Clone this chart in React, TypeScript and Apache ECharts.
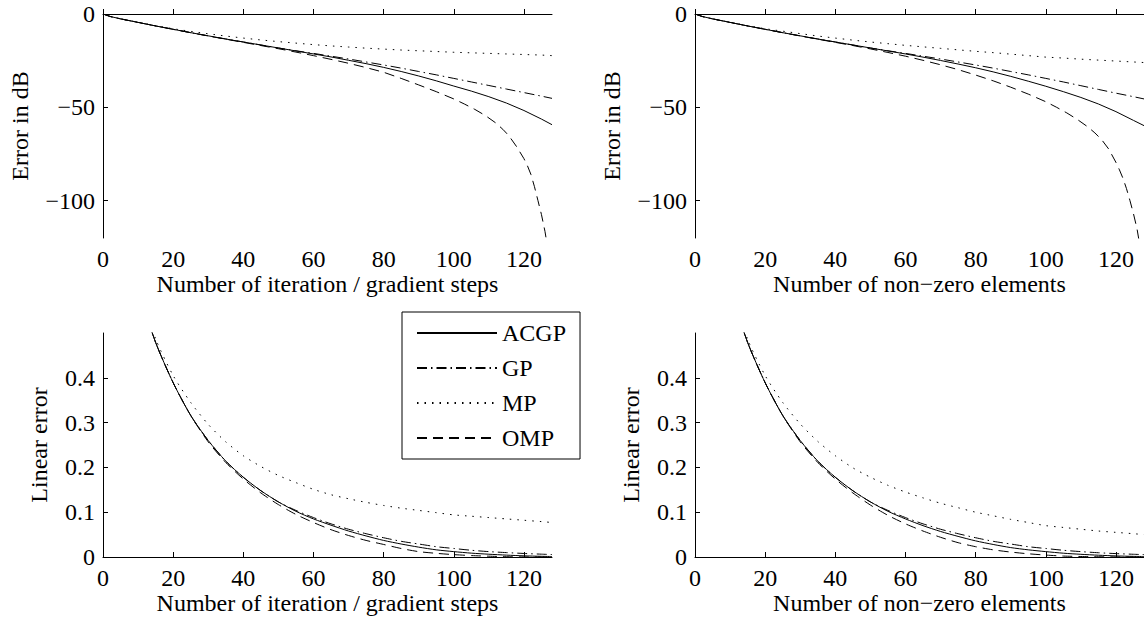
import React, { useEffect, useRef } from "react";
import * as echarts from "echarts";

// ---------- data ----------
const SERIES_NAMES = ["ACGP", "GP", "MP", "OMP"];
const X_TICKS = [0, 20, 40, 60, 80, 100, 120];
const Y_TICKS_DB = [-100, -50, 0];
const Y_TICKS_LIN = [0, 0.1, 0.2, 0.3, 0.4];

// x positions for the dB curves
const X = [0, 2, 5, 10, 15, 20, 25, 30, 35, 40, 45, 50, 55, 60, 65, 70, 75, 80, 85, 90, 95, 100, 105, 110, 115, 120, 125, 128];
const X_OMP_L = [0, 2, 5, 10, 15, 20, 25, 30, 35, 40, 45, 50, 55, 60, 65, 70, 75, 80, 85, 90, 95, 100, 103, 106, 109, 112, 114, 115, 116, 118, 120, 121, 122, 123, 124, 125, 126, 127];
const X_OMP_R = [0, 2, 5, 10, 15, 20, 25, 30, 35, 40, 45, 50, 55, 60, 65, 70, 75, 80, 85, 90, 95, 100, 103, 106, 109, 112, 114, 116, 118, 120, 121, 122, 123, 124, 125, 126, 127];

// top-left: error in dB vs iterations
const ACGP_L_DB = [0, -1.3, -2.6, -4.5, -6.4, -8.2, -10.0, -11.7, -13.4, -15.0, -16.6, -18.2, -19.8, -21.4, -23.0, -24.8, -26.6, -28.6, -30.8, -33.2, -35.8, -38.6, -41.3, -44.3, -47.7, -51.7, -56.3, -59.3];
const GP_L_DB = [0, -1.3, -2.6, -4.5, -6.4, -8.2, -10.0, -11.7, -13.4, -15.0, -16.6, -18.2, -19.7, -21.1, -22.6, -24.1, -25.7, -27.3, -29.0, -30.8, -32.6, -34.5, -36.4, -38.3, -40.2, -42.1, -44.0, -45.2];
const MP_L_DB = [0, -1.3, -2.6, -4.4, -6.3, -7.9, -9.3, -10.6, -11.8, -12.9, -13.9, -14.8, -15.6, -16.4, -17.1, -17.7, -18.3, -18.8, -19.3, -19.7, -20.1, -20.5, -20.8, -21.1, -21.4, -21.7, -22.0, -22.3];
const OMP_L_DB = [0, -1.3, -2.6, -4.5, -6.4, -8.2, -10.0, -11.8, -13.5, -15.2, -16.9, -18.6, -20.4, -22.3, -24.3, -26.4, -28.7, -31.2, -34.5, -38.0, -41.6, -45.5, -48.2, -51.1, -54.4, -58.4, -61.8, -63.8, -66.0, -71.3, -77.5, -81.3, -86.0, -92.5, -100.0, -107.5, -116.5, -128.0];

// top-right: error in dB vs non-zero elements
const ACGP_R_DB = [0, -1.3, -2.6, -4.5, -6.4, -8.2, -10.0, -11.7, -13.4, -15.0, -16.6, -18.2, -19.8, -21.4, -23.1, -24.9, -26.8, -28.8, -31.0, -33.4, -36.0, -38.7, -41.6, -44.7, -48.2, -52.3, -57.0, -59.8];
const GP_R_DB = [0, -1.3, -2.6, -4.5, -6.4, -8.2, -10.0, -11.7, -13.4, -15.0, -16.6, -18.2, -19.7, -21.1, -22.6, -24.1, -25.7, -27.3, -29.0, -30.8, -32.6, -34.5, -36.4, -38.4, -40.4, -42.4, -44.3, -45.5];
const MP_R_DB = [0, -1.3, -2.6, -4.4, -6.3, -7.9, -9.2, -10.5, -11.8, -12.9, -14.0, -15.0, -15.9, -16.8, -17.6, -18.4, -19.2, -20.0, -20.7, -21.5, -22.3, -23.1, -23.6, -24.2, -24.7, -25.2, -25.7, -26.0];
const OMP_R_DB = [0, -1.3, -2.6, -4.5, -6.4, -8.2, -10.0, -11.8, -13.5, -15.2, -16.9, -18.7, -20.6, -22.6, -24.8, -27.2, -29.8, -32.7, -35.8, -39.2, -42.9, -47.0, -49.9, -53.0, -56.5, -60.5, -63.7, -67.5, -72.5, -79.5, -83.5, -88.0, -93.5, -100.0, -107.0, -115.0, -126.0];

// x positions for the linear-error curves
const XB = [10, 15, 20, 25, 30, 35, 40, 45, 50, 55, 60, 65, 70, 75, 80, 85, 90, 95, 100, 105, 110, 115, 120, 125, 128];
const XB_OMP = [10, 15, 20, 25, 30, 35, 40, 45, 50, 55, 60, 65, 70, 75, 80, 85, 90, 95, 100, 105, 110, 115, 120, 127];

// bottom-left: linear error vs iterations
const ACGP_L_LIN = [0.596, 0.479, 0.389, 0.316, 0.26, 0.214, 0.178, 0.148, 0.123, 0.102, 0.085, 0.071, 0.058, 0.047, 0.037, 0.029, 0.022, 0.016, 0.012, 0.0086, 0.0062, 0.0042, 0.0026, 0.0015, 0.0011];
const GP_L_LIN = [0.596, 0.479, 0.389, 0.316, 0.26, 0.214, 0.178, 0.148, 0.123, 0.104, 0.088, 0.074, 0.062, 0.052, 0.043, 0.035, 0.029, 0.023, 0.019, 0.015, 0.012, 0.0098, 0.0079, 0.0063, 0.0055];
const MP_L_LIN = [0.603, 0.487, 0.405, 0.345, 0.296, 0.257, 0.226, 0.202, 0.182, 0.166, 0.151, 0.139, 0.13, 0.122, 0.115, 0.109, 0.104, 0.099, 0.094, 0.091, 0.088, 0.085, 0.082, 0.079, 0.077];
const OMP_L_LIN = [0.596, 0.479, 0.389, 0.316, 0.257, 0.211, 0.174, 0.143, 0.117, 0.095, 0.077, 0.061, 0.048, 0.037, 0.028, 0.019, 0.012, 0.0082, 0.0053, 0.0032, 0.0018, 0.0006, 0.0001, 0];

// bottom-right: linear error vs non-zero elements
const ACGP_R_LIN = [0.596, 0.479, 0.389, 0.316, 0.26, 0.214, 0.178, 0.148, 0.123, 0.102, 0.085, 0.07, 0.057, 0.046, 0.036, 0.028, 0.021, 0.016, 0.012, 0.0085, 0.006, 0.004, 0.0024, 0.0014, 0.0011];
const GP_R_LIN = [0.596, 0.479, 0.389, 0.316, 0.26, 0.214, 0.178, 0.148, 0.123, 0.104, 0.088, 0.074, 0.062, 0.052, 0.043, 0.035, 0.029, 0.023, 0.019, 0.015, 0.012, 0.0095, 0.0076, 0.0061, 0.0053];
const MP_R_LIN = [0.603, 0.486, 0.405, 0.345, 0.297, 0.258, 0.226, 0.199, 0.178, 0.16, 0.145, 0.132, 0.12, 0.11, 0.1, 0.092, 0.084, 0.077, 0.07, 0.066, 0.062, 0.058, 0.055, 0.052, 0.05];
const OMP_R_LIN = [0.596, 0.479, 0.389, 0.316, 0.257, 0.211, 0.174, 0.143, 0.116, 0.093, 0.074, 0.058, 0.044, 0.032, 0.023, 0.016, 0.011, 0.0072, 0.0043, 0.0021, 0.0011, 0.0005, 0.0001, 0];

// ---------- styling ----------
const FONT = "'Liberation Serif', 'Times New Roman', serif";
const FS = 24;
const DASH: Record<string, any> = {
  ACGP: "solid",
  GP: [10, 4, 1.5, 4],
  MP: [1.5, 6],
  OMP: [10, 6],
};

const zip = (xs: number[], ys: number[]) => xs.map((x, i) => [x, ys[i]]);
const fmtMinus = (v: number) => String(v).replace("-", "\u2212");

export default function App() {
  const ref = useRef<HTMLDivElement>(null);

  useEffect(() => {
    document.body.style.margin = "0";
    const chart = echarts.init(ref.current!, null, { renderer: "svg" });

    const grids = [
      { left: 103, top: 14, width: 449, height: 224 },
      { left: 695, top: 14, width: 449, height: 224 },
      { left: 103, top: 333, width: 449, height: 224 },
      { left: 695, top: 333, width: 449, height: 224 },
    ];
    const xNames = [
      "Number of iteration / gradient steps",
      "Number of non\u2212zero elements",
      "Number of iteration / gradient steps",
      "Number of non\u2212zero elements",
    ];

    const textStyle = { fontFamily: FONT, fontSize: FS, color: "#000" };
    const axisLine = { show: true, lineStyle: { color: "#000", width: 1 } };
    const axisTick = (vals: number[]) => ({
      show: true,
      inside: true,
      length: 5,
      customValues: vals,
      lineStyle: { color: "#000", width: 1 },
    });

    const xAxis = grids.map((_, i) => ({
      type: "value",
      gridIndex: i,
      min: 0,
      max: 128,
      axisLine,
      axisTick: axisTick(X_TICKS),
      axisLabel: { ...textStyle, margin: 9, customValues: X_TICKS },
      splitLine: { show: false },
      name: xNames[i],
      nameLocation: "middle",
      nameGap: 34,
      nameTextStyle: textStyle,
    }));

    const yAxis = grids.map((_, i) => {
      const top = i < 2;
      return {
        type: "value",
        gridIndex: i,
        min: top ? -120 : 0,
        max: top ? 0 : 0.5,
        axisLine,
        axisTick: axisTick(top ? Y_TICKS_DB : Y_TICKS_LIN),
        axisLabel: {
          ...textStyle,
          margin: 8,
          customValues: top ? Y_TICKS_DB : Y_TICKS_LIN,
          formatter: (v: number) => fmtMinus(v),
        },
        splitLine: { show: false },
        name: top ? "Error in dB" : "Linear error",
        nameLocation: "middle",
        nameRotate: 90,
        nameGap: top ? 71 : 52,
        nameTextStyle: textStyle,
      };
    });

    const plotData: number[][][][] = [
      [zip(X, ACGP_L_DB), zip(X, GP_L_DB), zip(X, MP_L_DB), zip(X_OMP_L, OMP_L_DB)],
      [zip(X, ACGP_R_DB), zip(X, GP_R_DB), zip(X, MP_R_DB), zip(X_OMP_R, OMP_R_DB)],
      [zip(XB, ACGP_L_LIN), zip(XB, GP_L_LIN), zip(XB, MP_L_LIN), zip(XB_OMP, OMP_L_LIN)],
      [zip(XB, ACGP_R_LIN), zip(XB, GP_R_LIN), zip(XB, MP_R_LIN), zip(XB_OMP, OMP_R_LIN)],
    ];

    const series: any[] = [];
    plotData.forEach((sets, g) => {
      sets.forEach((data, k) => {
        const name = SERIES_NAMES[k];
        series.push({
          type: "line",
          name,
          xAxisIndex: g,
          yAxisIndex: g,
          data,
          showSymbol: false,
          symbol: "none",
          smooth: g >= 2 ? 0.25 : false,
          clip: true,
          lineStyle: { color: "#000", width: 1, type: DASH[name] },
          itemStyle: { color: "#000" },
          z: k === 0 ? 3 : 2,
        });
      });
    });

    chart.setOption({
      animation: false,
      backgroundColor: "#fff",
      grid: grids,
      xAxis,
      yAxis,
      series,
      legend: {
        show: true,
        orient: "vertical",
        left: 402,
        top: 312,
        data: SERIES_NAMES,
        itemWidth: 80,
        itemHeight: 14,
        itemGap: 9,
        padding: [8, 14, 8, 14],
        backgroundColor: "#fff",
        borderColor: "#000",
        borderWidth: 1,
        borderRadius: 0,
        selectedMode: false,
        itemStyle: { opacity: 0, borderWidth: 0 },
        textStyle: { ...textStyle, lineHeight: 26 },
        z: 10,
      },
    });

    return () => chart.dispose();
  }, []);

  return <div ref={ref} style={{ width: 1144, height: 622 }} />;
}
